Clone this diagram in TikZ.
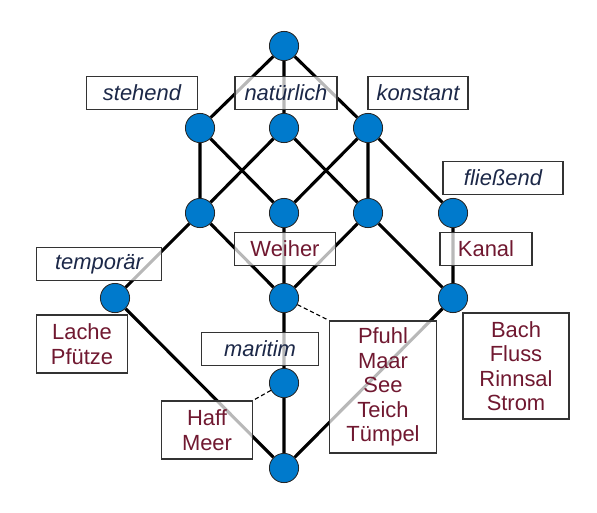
\documentclass[tikz,border=0pt]{standalone}
\usepackage{fontspec}
\setmainfont{Liberation Sans}
\usetikzlibrary{backgrounds}
\definecolor{knotblau}{RGB}{0,122,204}
\definecolor{merkmalfarbe}{RGB}{28,40,72}
\definecolor{gegenstandfarbe}{RGB}{112,24,48}
\tikzset{
  knoten/.style={circle,draw=black!85,fill=knotblau,minimum size=0.73cm,inner sep=0pt,line width=0.6pt},
  kante/.style={line width=2.2pt},
  schild/.style={draw=black!80,line width=1.2pt,fill=white,fill opacity=0.72,text opacity=1,
    inner sep=0pt,minimum height=0.83cm,align=center,font=\fontsize{15.6}{17.4}\selectfont},
  merkmal/.style={schild,text=merkmalfarbe,font=\fontsize{15.6}{17.4}\selectfont\itshape},
  gegenstand/.style={schild,text=gegenstandfarbe},
  punktiert/.style={densely dashed,line width=0.8pt}
}
\begin{document}
\begin{tikzpicture}[x=0.025cm,y=-0.025cm]
  \useasboundingbox (0,0) rectangle (597,512);
  \node[knoten] (top) at (284,46) {};
  \node[knoten] (st) at (200,128) {};
  \node[knoten] (na) at (284,128) {};
  \node[knoten] (ko) at (368,128) {};
  \node[knoten] (a) at (200,213) {};
  \node[knoten] (b) at (284,213) {};
  \node[knoten] (c) at (368,213) {};
  \node[knoten] (fl) at (453,213) {};
  \node[knoten] (te) at (115,298) {};
  \node[knoten] (we) at (284,298) {};
  \node[knoten] (ka) at (453,298) {};
  \node[knoten] (ma) at (284,383) {};
  \node[knoten] (bot) at (284,468) {};
  \begin{scope}[on background layer]
    \draw[kante] (top) -- (st) (top) -- (na) (top) -- (ko);
    \draw[kante] (st) -- (a) (st) -- (b) (na) -- (a) (na) -- (c);
    \draw[kante] (ko) -- (b) (ko) -- (c) (ko) -- (fl);
    \draw[kante] (a) -- (te) (a) -- (we) (b) -- (we) (c) -- (we) (c) -- (ka) (fl) -- (ka);
    \draw[kante] (te) -- (bot) (we) -- (ma) (ma) -- (bot) (ka) -- (bot);
  \end{scope}
  \node[merkmal,minimum width=2.78cm] (stehend) at (142,93) {stehend};
  \node[merkmal,minimum width=2.55cm] (natuerlich) at (286,93) {natürlich};
  \node[merkmal,minimum width=2.5cm] (konstant) at (418,93) {konstant};
  \node[merkmal,minimum width=3cm] (fliessend) at (503,178) {fließend};
  \node[merkmal,minimum width=3.13cm] (temporaer) at (99,264) {temporär};
  \node[merkmal,minimum width=2.93cm] (maritim) at (260,349) {maritim};
  \node[gegenstand,minimum width=2.3cm] (kanal) at (486,249) {Kanal};
  \node[gegenstand,minimum width=2.53cm] (weiher) at (285,249) {Weiher};
  \node[gegenstand,minimum width=2.28cm,minimum height=1.45cm] (lache) at (82,344) {Lache\\Pfütze};
  \node[gegenstand,minimum width=2.28cm,minimum height=1.45cm] (haff) at (207,430) {Haff\\Meer};
  \node[gegenstand,minimum width=2.68cm,minimum height=3.3cm] (pfuhl) at (383,387) {Pfuhl\\Maar\\See\\Teich\\Tümpel};
  \node[gegenstand,minimum width=2.65cm,minimum height=2.65cm] (bach) at (516,366) {Bach\\Fluss\\Rinnsal\\Strom};
  \draw[punktiert] (we) -- (pfuhl.north west);
  \draw[punktiert] (ma) -- (haff.north east);
\end{tikzpicture}
\end{document}
